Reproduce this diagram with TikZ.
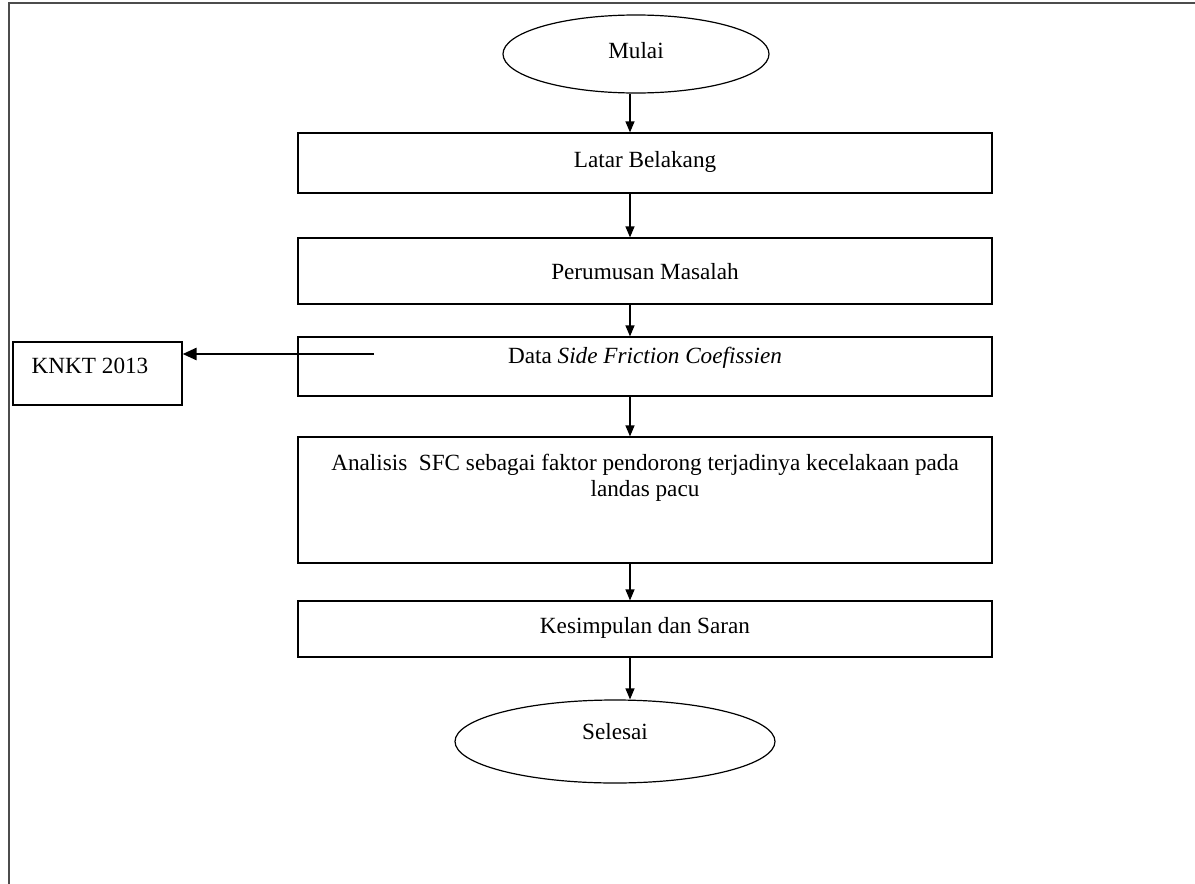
\documentclass[tikz,border=0pt]{standalone}
\usepackage{fontspec}
\setmainfont{Liberation Serif}
\usetikzlibrary{shapes.geometric, arrows.meta}
\begin{document}
\begin{tikzpicture}[x=.5pt, y=-.5pt, line width=.6pt, >={Triangle[length=5.5pt, width=4.5pt]}]
	\useasboundingbox (0, 0) rectangle (1195, 884);
	\draw[line width=.9pt, black!70] (9, 884) -- (9, 3) -- (1195, 3);
	\begin{scope}[every node/.style={draw, inner sep=0pt, text height=8pt, text depth=2.5pt, font=\fontsize{11.6}{13}\selectfont}]
		\node[ellipse, minimum width=133pt, minimum height=39pt, text depth=4pt] (mulai) at (636, 54) {Mulai};
		\node[minimum width=347pt, minimum height=30pt, text depth=4pt] (latar) at (645, 163) {Latar Belakang};
		\node[minimum width=347pt, minimum height=33pt, text height=11pt] (rumusan) at (645, 271) {Perumusan Masalah};
		\node[minimum width=347pt, minimum height=29.5pt, text depth=11pt] (data) at (645, 366.5) {Data \textit{Side Friction Coefissien}};
		\node[minimum width=347pt, minimum height=63pt, text depth=12pt, align=center] (analisis) at (645, 500) {Analisis\ \ SFC sebagai faktor pendorong terjadinya kecelakaan pada\\landas pacu};
		\node[minimum width=347pt, minimum height=28pt, text depth=4pt] (simpulan) at (645, 629) {Kesimpulan dan Saran};
		\node[ellipse, minimum width=160pt, minimum height=41.5pt, text depth=10pt] (selesai) at (615, 741.5) {Selesai};
		\node[minimum width=84.5pt, minimum height=31.5pt, text depth=8pt] (knkt) at (97.5, 373.5) {KNKT 2013\hspace*{7.5pt}};
	\end{scope}
	\coordinate (spine) at (630, 0);
	\path[->] (mulai.south -| spine) edge (latar.north -| spine);
	\path[->] (latar.south -| spine) edge (rumusan.north -| spine);
	\path[->] (rumusan.south -| spine) edge (data.north -| spine);
	\path[->] (data.south -| spine) edge (analisis.north -| spine);
	\path[->] (analisis.south -| spine) edge (simpulan.north -| spine);
	\path[->] (simpulan.south -| spine) edge (selesai.north -| spine);
	\coordinate (tail) at (374, 354);
	\draw[->, line width=1.3pt, >={Triangle[length=7pt, width=6pt]}] (tail) -- (tail -| knkt.east);
\end{tikzpicture}
\end{document}
